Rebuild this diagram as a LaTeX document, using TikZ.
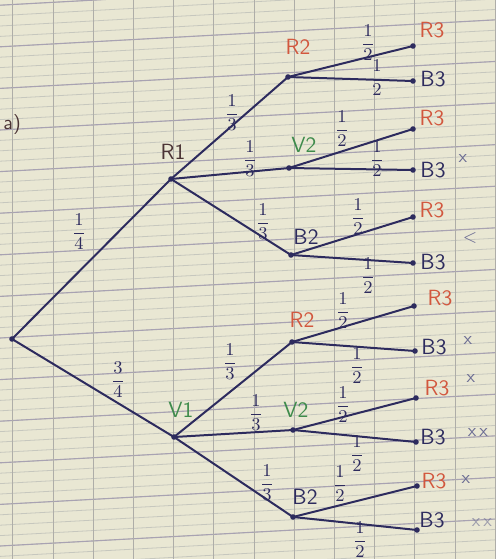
\documentclass[tikz,border=0pt]{standalone}
\usepackage{amsmath}
\definecolor{navy}{HTML}{2D2B5E}
\definecolor{redlab}{HTML}{D2573E}
\definecolor{greenlab}{HTML}{3E8B4B}
\definecolor{darklab}{HTML}{4A3234}
\definecolor{paper}{HTML}{E9E7D3}
\definecolor{heavygridc}{HTML}{A8A2B2}
\definecolor{lightgridc}{HTML}{C6C7BE}
\definecolor{vgridc}{HTML}{AEADA8}
\definecolor{markc}{HTML}{6B6C93}
\begin{document}
\begin{tikzpicture}[x=0.5pt,y=-0.5pt,
  edge/.style={draw=navy,line width=1pt},
  dot/.style={fill=navy},
  lab/.style={font=\sffamily\fontsize{11}{12}\selectfont,inner sep=0pt},
  rl/.style={lab,text=redlab},
  gl/.style={lab,text=greenlab},
  bl/.style={lab,text=navy},
  fr/.style={font=\fontsize{9}{10}\selectfont,text=navy,inner sep=0pt},
  mk/.style={font=\sffamily\fontsize{9}{10}\selectfont,text=markc,inner sep=0pt},
  lightgrid/.style={draw=lightgridc,line width=0.4pt},
  heavygrid/.style={draw=heavygridc,line width=0.55pt},
  vgrid/.style={draw=vgridc,line width=0.5pt}]
\useasboundingbox (0,0) rectangle (496,559);
\fill[paper] (0,0) rectangle (496,559);
\begin{scope}
\clip (0,0) rectangle (496,559);
\foreach \n in {-13,...,46} {
  \draw[lightgrid] (0,{130+10.4*\n}) -- (496,{130+10.4*\n-27});
}
\foreach \m in {-4,...,12} {
  \draw[heavygrid] (0,{130+41.6*\m}) -- (496,{130+41.6*\m-27});
}
\foreach \k in {0,...,12} {
  \draw[vgrid] ({13+40.2*\k},0) -- ({13+40.2*\k},559);
}
\end{scope}
% tree vertices
\coordinate (O) at (12,339);
\coordinate (R1) at (171,179);
\coordinate (V1) at (174,437);
\coordinate (aR2) at (288,77);
\coordinate (aV2) at (289,168);
\coordinate (aB2) at (291,255);
\coordinate (bR2) at (292,342);
\coordinate (bV2) at (293,430);
\coordinate (bB2) at (293,517);
\coordinate (a1) at (413,46);
\coordinate (a2) at (413,81);
\coordinate (a3) at (413,129);
\coordinate (a4) at (413,170);
\coordinate (a5) at (413,217);
\coordinate (a6) at (413,263);
\coordinate (b1) at (414,306);
\coordinate (b2) at (415,351);
\coordinate (b3) at (416,398);
\coordinate (b4) at (416,442);
\coordinate (b5) at (417,486);
\coordinate (b6) at (417,530);
% edges
\draw[edge] (O) -- (R1);
\draw[edge] (O) -- (V1);
\draw[edge] (R1) -- (aR2);
\draw[edge] (R1) -- (aV2);
\draw[edge] (R1) -- (aB2);
\draw[edge] (V1) -- (bR2);
\draw[edge] (V1) -- (bV2);
\draw[edge] (V1) -- (bB2);
\draw[edge] (aR2) -- (a1);
\draw[edge] (aR2) -- (a2);
\draw[edge] (aV2) -- (a3);
\draw[edge] (aV2) -- (a4);
\draw[edge] (aB2) -- (a5);
\draw[edge] (aB2) -- (a6);
\draw[edge] (bR2) -- (b1);
\draw[edge] (bR2) -- (b2);
\draw[edge] (bV2) -- (b3);
\draw[edge] (bV2) -- (b4);
\draw[edge] (bB2) -- (b5);
\draw[edge] (bB2) -- (b6);
\foreach \p in {O,R1,V1,aR2,aV2,aB2,bR2,bV2,bB2,a1,a2,a3,a4,a5,a6,b1,b2,b3,b4,b5,b6}
  \fill[dot] (\p) circle (1.4pt);
% labels
\node[lab,text=darklab,font=\sffamily\fontsize{10}{11}\selectfont,anchor=west] (ta) at (3,124) {a)};
\node[lab,text=darklab] (tR1) at (173,152) {R1};
\node[gl] (tV1) at (181,410) {V1};
\node[rl] (taR2) at (298,47) {R2};
\node[gl] (taV2) at (304,145) {V2};
\node[bl] (taB2) at (306,237) {B2};
\node[rl] (tbR2) at (302,320) {R2};
\node[gl] (tbV2) at (296,410) {V2};
\node[bl] (tbB2) at (305,497) {B2};
\node[rl] (ta1) at (432,30) {R3};
\node[bl] (ta2) at (433,79) {B3};
\node[rl] (ta3) at (432,118) {R3};
\node[bl] (ta4) at (433,170) {B3};
\node[rl] (ta5) at (432,210) {R3};
\node[bl] (ta6) at (433,262) {B3};
\node[rl] (tb1) at (440,298) {R3};
\node[bl] (tb2) at (434,347) {B3};
\node[rl] (tb3) at (437,388) {R3};
\node[bl] (tb4) at (433,437) {B3};
\node[rl] (tb5) at (434,481) {R3};
\node[bl] (tb6) at (432,520) {B3};
% probabilities
\node[fr] (f1) at (79,232) {$\dfrac{1}{4}$};
\node[fr] (f2) at (118,380) {$\dfrac{3}{4}$};
\node[fr] (f3) at (232,113) {$\dfrac{1}{3}$};
\node[fr] (f4) at (250,159) {$\dfrac{1}{3}$};
\node[fr] (f5) at (263,222) {$\dfrac{1}{3}$};
\node[fr] (f6) at (368,43) {$\dfrac{1}{2}$};
\node[fr] (f7) at (377,78) {$\dfrac{1}{2}$};
\node[fr] (f8) at (342,129) {$\dfrac{1}{2}$};
\node[fr] (f9) at (377,159) {$\dfrac{1}{2}$};
\node[fr] (f10) at (358,217) {$\dfrac{1}{2}$};
\node[fr] (f11) at (368,276) {$\dfrac{1}{2}$};
\node[fr] (f12) at (230,362) {$\dfrac{1}{3}$};
\node[fr] (f13) at (256,413) {$\dfrac{1}{3}$};
\node[fr] (f14) at (267,483) {$\dfrac{1}{3}$};
\node[fr] (f15) at (343,311) {$\dfrac{1}{2}$};
\node[fr] (f16) at (357,366) {$\dfrac{1}{2}$};
\node[fr] (f17) at (343,405) {$\dfrac{1}{2}$};
\node[fr] (f18) at (357,454) {$\dfrac{1}{2}$};
\node[fr] (f19) at (340,484) {$\dfrac{1}{2}$};
\node[fr] (f20) at (360,540) {$\dfrac{1}{2}$};
% check marks
\node[mk] (c1) at (463,158) {x};
\node[mk] (c2) at (470,238) {<};
\node[mk] (c3) at (468,340) {x};
\node[mk] (c4) at (471,378) {x};
\node[mk] (c5) at (478,432) {x\,x};
\node[mk] (c6) at (466,479) {x};
\node[mk,opacity=0.6] (c7) at (482,522) {x\,x};
\end{tikzpicture}
\end{document}
